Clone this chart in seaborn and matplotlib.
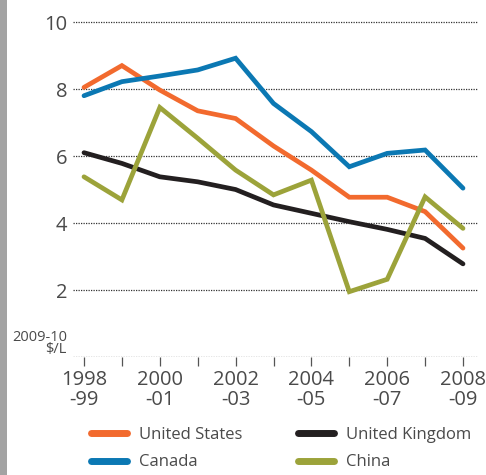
import matplotlib
matplotlib.use("Agg")
import matplotlib.pyplot as plt
import seaborn as sns
import pandas as pd
from matplotlib.patches import Rectangle
from matplotlib.ticker import FixedLocator
from matplotlib.lines import Line2D

years = list(range(1998, 2009))
us = [8.05, 8.7, 7.97, 7.35, 7.12, 6.3, 5.58, 4.77, 4.77, 4.34, 3.25]
canada = [7.8, 8.22, 8.39, 8.57, 8.92, 7.57, 6.73, 5.68, 6.08, 6.18, 5.04]
uk = [6.1, 5.78, 5.38, 5.23, 5.0, 4.54, 4.29, 4.04, 3.81, 3.54, 2.78]
china = [5.38, 4.69, 7.45, 6.53, 5.58, 4.84, 5.28, 1.95, 2.32, 4.78, 3.84]
series_names = ["United States", "Canada", "United Kingdom", "China"]
colors = ["#F26A2E", "#0B78B3", "#231F20", "#9CA33A"]
xtick_years = [1998, 2000, 2002, 2004, 2006, 2008]
xtick_labels = ["1998\n-99", "2000\n-01", "2002\n-03", "2004\n-05", "2006\n-07", "2008\n-09"]
yticks = [2, 4, 6, 8, 10]

sns.set_theme(style="white")
plt.rcParams['font.family'] = ['Open Sans', 'DejaVu Sans']
txt = "#4a4a4a"

rows = []
for name, vals in zip(series_names, [us, canada, uk, china]):
    for y, v in zip(years, vals):
        rows.append({"year": y, "value": v, "series": name})
df = pd.DataFrame(rows)

fig = plt.figure(figsize=(4.86, 4.75), dpi=100)
ax = fig.add_axes([73/486, 1-357/475, (478-73)/486, (357-12)/475])

sns.lineplot(data=df, x="year", y="value", hue="series", hue_order=series_names,
             palette=colors, linewidth=3.4, ax=ax, legend=False, clip_on=False,
             solid_capstyle="round", solid_joinstyle="miter")

ax.set_xlim(1998 - 11/37.9, 2008 + 15/37.9)
ax.set_ylim(0, 10.3)
for s in ax.spines.values():
    s.set_visible(False)

for g in [0] + yticks:
    ax.axhline(g, color="#333333", linestyle=(0, (1.0, 1.0)), linewidth=0.9, zorder=0)

ax.set_yticks(yticks)
ax.set_yticklabels([str(t) for t in yticks], fontsize=14.5, color=txt)
ax.tick_params(axis="y", length=0, pad=4)

ax.set_xticks(xtick_years)
ax.set_xticklabels(xtick_labels, fontsize=14.5, color=txt, linespacing=1.0)
ax.xaxis.set_minor_locator(FixedLocator(years))
ax.tick_params(axis="x", which="both", direction="out", length=6.5, width=0.9,
               color="#555555", pad=3, bottom=True)
ax.set_xlabel("")
ax.set_ylabel("")

ax.text(-0.015, 0.0, "2009-10\n$/L", transform=ax.transAxes, ha="right", va="bottom",
        fontsize=10.5, color=txt, linespacing=0.72, multialignment="right")

handles = [Line2D([0], [0], color=c, linewidth=5, solid_capstyle="round") for c in colors]
fig.legend(handles, series_names, ncol=2, loc="lower left",
           bbox_to_anchor=(76/486, -0.022), frameon=False, fontsize=12,
           handlelength=2.15, handletextpad=0.75, columnspacing=3.3,
           labelspacing=0.7, labelcolor=txt)

fig.patches.append(Rectangle((0, 0), 7/486, 1, transform=fig.transFigure,
                             facecolor="#a3a3a3", edgecolor="none"))

fig.savefig("out.png", dpi=100)
